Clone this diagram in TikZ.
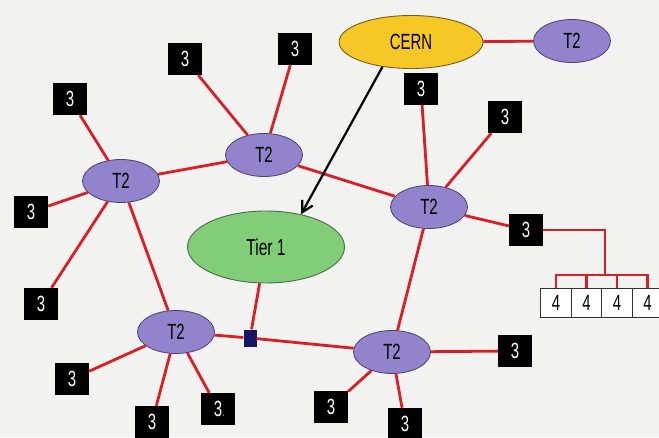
\documentclass[tikz,border=0pt]{standalone}
\usepackage{fontspec}
\setmainfont{Liberation Sans}[FakeStretch=0.68]
\usetikzlibrary{shapes.geometric,arrows.meta}
\definecolor{bgc}{HTML}{F2F2F0}
\definecolor{redl}{RGB}{218,30,38}
\definecolor{tfill}{RGB}{146,132,204}
\definecolor{tdraw}{RGB}{74,64,114}
\definecolor{cfill}{RGB}{246,200,38}
\definecolor{cdraw}{RGB}{120,92,30}
\definecolor{gfill}{RGB}{130,206,120}
\definecolor{gdraw}{RGB}{70,108,70}
\definecolor{navy}{RGB}{22,22,100}
\tikzset{
  x=1pt,y=1pt,
  lbl/.style={font=\fontsize{22}{26}\selectfont},
  tnode/.style={ellipse,lbl,fill=tfill,draw=tdraw,line width=0.8pt,minimum width=77pt,minimum height=43pt,inner sep=0pt},
  cnode/.style={ellipse,lbl,fill=cfill,draw=cdraw,line width=0.9pt,minimum width=144pt,minimum height=53pt,inner sep=0pt},
  gnode/.style={ellipse,font=\fontsize{23}{27}\selectfont,fill=gfill,draw=gdraw,line width=0.9pt,minimum width=157pt,minimum height=72pt,inner sep=0pt},
  bnode/.style={rectangle,lbl,fill=black,text=white,minimum width=34pt,minimum height=32pt,inner sep=0pt},
  fnode/.style={rectangle,lbl,fill=white,draw=black!80,line width=0.9pt,minimum width=30.5pt,minimum height=29pt,inner sep=0pt},
  sq/.style={rectangle,fill=navy,minimum width=13pt,minimum height=17pt,inner sep=0pt},
  rl/.style={draw=redl,line width=2.8pt},
}
\begin{document}
\begin{tikzpicture}
\fill[bgc] (0,0) rectangle (659,437);
\useasboundingbox (0,0) rectangle (659,437);
% main nodes
\node[cnode] (cern) at (411,395) {CERN};
\node[tnode] (t2r) at (572,396) {T2};
\node[tnode] (t2a) at (121,256) {T2};
\node[tnode] (t2b) at (264,282) {T2};
\node[tnode] (t2c) at (429,230) {T2};
\node[gnode] (tier1) at (266,190) {Tier 1};
\node[tnode] (t2d) at (176,105) {T2};
\node[tnode] (t2e) at (392,85) {T2};
\node[sq] (blue) at (250,99) {};
% tier 3 boxes
\node[bnode] (b1) at (185,378) {3};
\node[bnode] (b2) at (295,388) {3};
\node[bnode] (b3) at (70,338) {3};
\node[bnode] (b4) at (31,225) {3};
\node[bnode] (b5) at (41,133) {3};
\node[bnode] (b6) at (421,348) {3};
\node[bnode] (b7) at (505,320) {3};
\node[bnode] (b8) at (526,207) {3};
\node[bnode] (b9) at (72,58) {3};
\node[bnode] (b10) at (152,15) {3};
\node[bnode] (b11) at (218,28) {3\rlap{\color{black!45}\fontsize{14}{16}\selectfont .}};
\node[bnode] (b12) at (331,30) {3};
\node[bnode] (b13) at (405,13) {3};
\node[bnode] (b14) at (515,86) {3};
% tier 4 boxes
\node[fnode] (f1) at (556,134.5) {4};
\node[fnode] (f2) at (586.5,134.5) {4};
\node[fnode] (f3) at (617,134.5) {4};
\node[fnode] (f4) at (647.5,134.5) {4};
\coordinate (busc) at (605,162);
% red links
\path[rl] (cern) -- (t2r);
\path[rl] (t2a) -- (b3);
\path[rl] (t2a) -- (b4);
\path[rl] (t2a) -- (b5);
\path[rl] (t2a) -- (t2b);
\path[rl] (t2a) -- (t2d);
\path[rl] (t2b) -- (b1);
\path[rl] (t2b) -- (b2);
\path[rl] (t2b) -- (t2c);
\path[rl] (t2c) -- (b6);
\path[rl] (t2c) -- (b7);
\path[rl] (t2c) -- (b8);
\path[rl] (t2c) -- (t2e);
\path[rl] (t2d) -- (b9);
\path[rl] (t2d) -- (b10);
\path[rl] (t2d) -- (b11);
\path[rl] (t2d) -- (blue);
\path[rl] (blue) -- (t2e);
\path[rl] (tier1) -- (blue);
\path[rl] (t2e) -- (b12);
\path[rl] (t2e) -- (b13);
\path[rl] (t2e) -- (b14);
% bus to tier 4
\path[rl] (b8.east) -| (busc);
\path[rl] (f1.north) |- (busc) -| (f4.north);
\path[rl] (f2.north) -- (f2.north |- busc);
\path[rl] (f3.north) -- (f3.north |- busc);
% CERN to Tier 1
\draw[black,line width=2.2pt,-{Straight Barb[length=11pt,width=12pt,line width=2.2pt]}] (cern.221) -- (tier1.43);
\end{tikzpicture}
\end{document}
